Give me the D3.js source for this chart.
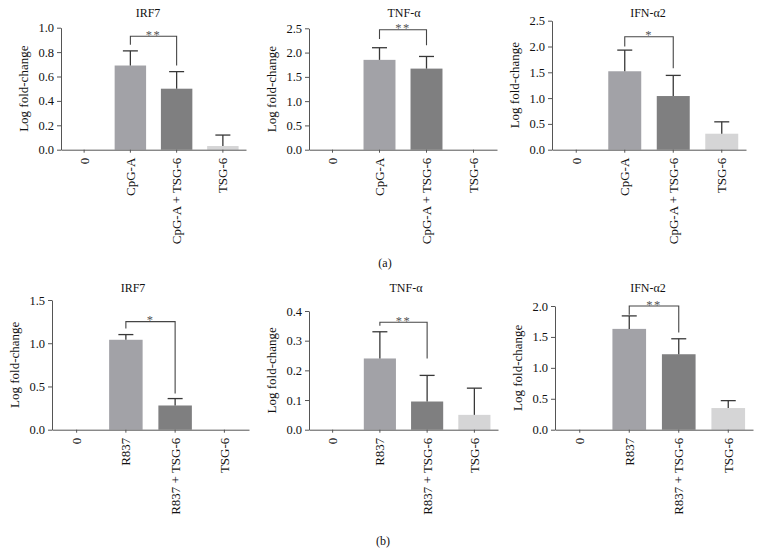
<!DOCTYPE html>
<html>
<head>
<meta charset="utf-8">
<script src="https://cdn.jsdelivr.net/npm/d3@7"></script>
<style>
  html, body { margin: 0; padding: 0; background: #fff; }
  svg { display: block; }
  text { font-family: "Liberation Serif", "Times New Roman", serif; fill: #111; }
</style>
</head>
<body>
<svg id="chart" width="764" height="560"></svg>
<script>
// ---------- DATA ----------
const categoriesA = ["0", "CpG-A", "CpG-A + TSG-6", "TSG-6"];
const categoriesB = ["0", "R837", "R837 + TSG-6", "TSG-6"];
const genes = ["IRF7", "TNF-\u03b1", "IFN-\u03b12"];

const meanA_IRF7 = [0, 0.69, 0.50, 0.03];
const errA_IRF7  = [0, 0.12, 0.14, 0.09];
const meanA_TNF  = [0, 1.85, 1.67, 0];
const errA_TNF   = [0, 0.25, 0.25, 0];
const meanA_IFN  = [0, 1.52, 1.04, 0.31];
const errA_IFN   = [0, 0.41, 0.40, 0.23];

const meanB_IRF7 = [0, 1.04, 0.28, 0];
const errB_IRF7  = [0, 0.06, 0.08, 0];
const meanB_TNF  = [0, 0.24, 0.095, 0.05];
const errB_TNF   = [0, 0.09, 0.088, 0.09];
const meanB_IFN  = [0, 1.63, 1.22, 0.35];
const errB_IFN   = [0, 0.21, 0.25, 0.12];

const yMaxA  = [1.0, 2.5, 2.5];
const yStepA = [0.2, 0.5, 0.5];
const yMaxB  = [1.5, 0.4, 2.0];
const yStepB = [0.5, 0.1, 0.5];

const sigA = ["**", "**", "*"];
const sigB = ["*", "**", "**"];
// bracket: [top value, left leg end, right leg end]
const bracketA = [[0.93, 0.86, 0.69], [2.47, 2.28, 2.15], [2.19, 2.0, 1.58]];
const bracketB = [[1.25, 1.17, 0.42], [0.362, 0.35, 0.24], [2.0, 1.86, 1.57]];

const panelLabels = ["(a)", "(b)"];

// ---------- LAYOUT ----------
const barColors = ["#a2a2a7", "#a2a2a7", "#7f7f80", "#d5d5d6"];
const layout = [
  {x0: 61,  x1: 246, yTop: 27.7, y0: 149.7, tx: 148},
  {x0: 309, x1: 497, yTop: 28.3, y0: 149.7, tx: 404},
  {x0: 552, x1: 746, yTop: 20.7, y0: 149.7, tx: 648},
  {x0: 52,  x1: 249, yTop: 300,  y0: 429.7, tx: 133},
  {x0: 309, x1: 498, yTop: 311,  y0: 429.7, tx: 406},
  {x0: 555, x1: 753, yTop: 306,  y0: 429.7, tx: 648}
];
const titleY = [13, 288];
const labelPos = [[385, 263], [383, 541]];

const panels = [
  {cats: categoriesA, mean: meanA_IRF7, err: errA_IRF7, ymax: yMaxA[0], step: yStepA[0], sig: sigA[0], br: bracketA[0], title: genes[0]},
  {cats: categoriesA, mean: meanA_TNF,  err: errA_TNF,  ymax: yMaxA[1], step: yStepA[1], sig: sigA[1], br: bracketA[1], title: genes[1]},
  {cats: categoriesA, mean: meanA_IFN,  err: errA_IFN,  ymax: yMaxA[2], step: yStepA[2], sig: sigA[2], br: bracketA[2], title: genes[2]},
  {cats: categoriesB, mean: meanB_IRF7, err: errB_IRF7, ymax: yMaxB[0], step: yStepB[0], sig: sigB[0], br: bracketB[0], title: genes[0]},
  {cats: categoriesB, mean: meanB_TNF,  err: errB_TNF,  ymax: yMaxB[1], step: yStepB[1], sig: sigB[1], br: bracketB[1], title: genes[1]},
  {cats: categoriesB, mean: meanB_IFN,  err: errB_IFN,  ymax: yMaxB[2], step: yStepB[2], sig: sigB[2], br: bracketB[2], title: genes[2]}
];

const svg = d3.select("#chart");
const axisColor = "#555";
const markColor = "#383838";

panels.forEach((p, i) => {
  const L = layout[i];
  const row = i < 3 ? 0 : 1;
  const g = svg.append("g");

  const x = d3.scaleBand().domain(p.cats).range([L.x0, L.x1])
    .paddingInner(0.32).paddingOuter(0.16);
  const y = d3.scaleLinear().domain([0, p.ymax]).range([L.y0, L.yTop]);
  const ticks = d3.range(0, p.ymax + p.step / 2, p.step);

  // bars
  const data = p.cats.map((c, k) => ({c, m: p.mean[k], e: p.err[k], k}));
  g.selectAll("rect.bar").data(data.filter(d => d.m > 0)).join("rect")
    .attr("x", d => x(d.c)).attr("width", x.bandwidth())
    .attr("y", d => y(d.m)).attr("height", d => y(0) - y(d.m))
    .attr("fill", d => barColors[d.k]);

  // error bars
  const eb = data.filter(d => d.e > 0);
  g.selectAll("line.eb").data(eb).join("line")
    .attr("x1", d => x(d.c) + x.bandwidth() / 2).attr("x2", d => x(d.c) + x.bandwidth() / 2)
    .attr("y1", d => y(d.m)).attr("y2", d => y(d.m + d.e))
    .attr("stroke", markColor).attr("stroke-width", 1.3);
  g.selectAll("line.cap").data(eb).join("line")
    .attr("x1", d => x(d.c) + x.bandwidth() / 2 - 7.5).attr("x2", d => x(d.c) + x.bandwidth() / 2 + 7.5)
    .attr("y1", d => y(d.m + d.e)).attr("y2", d => y(d.m + d.e))
    .attr("stroke", markColor).attr("stroke-width", 1.3);

  // significance bracket
  const xa = x(p.cats[1]) + x.bandwidth() / 2;
  const xb = x(p.cats[2]) + x.bandwidth() / 2;
  g.append("path")
    .attr("d", `M${xa},${y(p.br[1])}V${y(p.br[0])}H${xb}V${y(p.br[2])}`)
    .attr("fill", "none").attr("stroke", "#454545").attr("stroke-width", 1.1);
  g.append("text")
    .attr("x", (xa + xb) / 2).attr("y", y(p.br[0]) + 2.5)
    .attr("text-anchor", "middle").attr("font-size", 12.5).attr("letter-spacing", 1.5)
    .style("fill", "#555").text(p.sig);

  // axes
  const yAxis = d3.axisLeft(y).tickValues(ticks).tickFormat(d3.format(".1f")).tickSize(4).tickSizeOuter(0);
  const ya = g.append("g").attr("transform", `translate(${L.x0},0)`).call(yAxis);
  ya.select(".domain").attr("stroke", axisColor);
  ya.selectAll(".tick line").attr("stroke", axisColor);
  ya.selectAll(".tick text").attr("font-size", 12.5).attr("font-family", "Liberation Serif").style("fill", "#111");

  const xAxis = d3.axisBottom(x).tickSize(3).tickSizeOuter(0);
  const xa2 = g.append("g").attr("transform", `translate(0,${L.y0})`).call(xAxis);
  xa2.select(".domain").attr("stroke", axisColor);
  xa2.selectAll(".tick line").attr("stroke", axisColor);
  xa2.selectAll(".tick text")
    .attr("font-size", 13).attr("font-family", "Liberation Serif").style("fill", "#111")
    .attr("text-anchor", "end")
    .attr("transform", "rotate(-90)")
    .attr("x", -8).attr("y", 0).attr("dy", "0.35em");

  // y label
  g.append("text")
    .attr("transform", `translate(${L.x0 - 38},${(L.y0 + L.yTop) / 2}) rotate(-90)`)
    .attr("text-anchor", "middle").attr("dy", "0.35em")
    .attr("font-size", 13).text("Log fold-change");

  // title
  g.append("text")
    .attr("x", L.tx).attr("y", titleY[row]).attr("dy", "0.35em")
    .attr("text-anchor", "middle").attr("font-size", 12).text(p.title);
});

panelLabels.forEach((t, r) => {
  svg.append("text").attr("x", labelPos[r][0]).attr("y", labelPos[r][1]).attr("dy", "0.35em")
    .attr("text-anchor", "middle").attr("font-size", 12).text(t);
});
</script>
</body>
</html>
